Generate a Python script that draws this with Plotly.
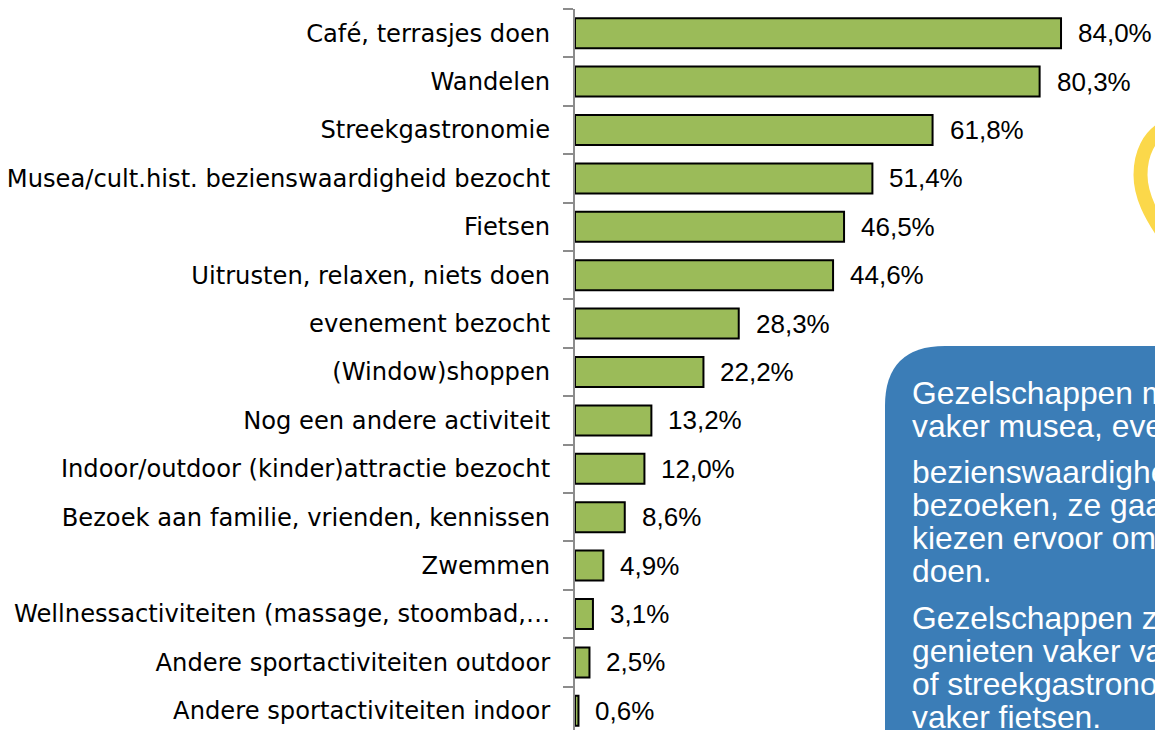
import plotly.graph_objects as go

categories = ["Café, terrasjes doen", "Wandelen", "Streekgastronomie",
              "Musea/cult.hist. bezienswaardigheid bezocht", "Fietsen",
              "Uitrusten, relaxen, niets doen", "evenement bezocht", "(Window)shoppen",
              "Nog een andere activiteit", "Indoor/outdoor (kinder)attractie bezocht",
              "Bezoek aan familie, vrienden, kennissen", "Zwemmen",
              "Wellnessactiviteiten (massage, stoombad,…", "Andere sportactiviteiten outdoor",
              "Andere sportactiviteiten indoor"]
values = [84.0, 80.3, 61.8, 51.4, 46.5, 44.6, 28.3, 22.2, 13.2, 12.0, 8.6, 4.9, 3.1, 2.5, 0.6]
box_lines = [("Gezelschappen met", 393), ("vaker musea, evenementen", 426),
             ("bezienswaardigheden", 472), ("bezoeken, ze gaan", 505),
             ("kiezen ervoor om", 538), ("doen.", 571),
             ("Gezelschappen zonder", 618), ("genieten vaker van", 651),
             ("of streekgastronomie", 684), ("vaker fietsen.", 717)]

W, H = 1155, 730
L, T = 575, 9
PW, PH = W - L, H - T
px = lambda x: (x - L) / PW
py = lambda y: 1 - (y - T) / PH

fig = go.Figure(go.Bar(y=categories, x=values, orientation="h",
                       marker=dict(color="#9BBB59", line=dict(color="#000000", width=2)),
                       hoverinfo="skip"))

ann = [dict(x=v, y=c, xref="x", yref="y", text=f"{v:.1f}".replace(".", ",") + "%",
            xanchor="left", yanchor="middle", xshift=15, showarrow=False,
            font=dict(family="Liberation Sans", size=26, color="#000000"))
       for c, v in zip(categories, values)]
for t, y in box_lines:
    ann.append(dict(x=px(910), y=py(y), xref="paper", yref="paper", text=t, xanchor="left",
                    yanchor="middle", showarrow=False,
                    font=dict(family="Liberation Sans", size=31.8, color="#FFFFFF")))

r = 60
box = (f"M {px(885)} {py(H+30)} L {px(885)} {py(346+r)} "
       f"Q {px(885)} {py(346)} {px(885+r)} {py(346)} L {px(1200)} {py(346)} L {px(1200)} {py(H+30)} Z")
pin = (f"M {px(1168)} {py(126)} C {px(1148)} {py(135)} {px(1140.5)} {py(155)} {px(1140.5)} {py(175)} "
       f"C {px(1140.5)} {py(195)} {px(1150)} {py(215)} {px(1168)} {py(240)}")
fig.update_layout(
    width=W, height=H, autosize=False,
    margin=dict(l=L, r=0, t=T, b=0, pad=0),
    paper_bgcolor="white", plot_bgcolor="white", showlegend=False,
    bargap=0.38,
    annotations=ann,
    shapes=[dict(type="path", path=box, xref="paper", yref="paper", fillcolor="#3B7DB7",
                 line=dict(width=0), layer="above"),
            dict(type="path", path=pin, xref="paper", yref="paper",
                 line=dict(color="#FBD84A", width=14), layer="above")],
    xaxis=dict(range=[0, PW / 5.786], visible=False, fixedrange=True),
    yaxis=dict(categoryorder="array", categoryarray=categories, type="category",
               range=[(H - T) / 48.4 - 0.5, -0.5], showgrid=False, zeroline=False,
               showline=True, linecolor="#8C8C8C", linewidth=2,
               ticks="outside", tickson="boundaries", ticklen=10, tickcolor="#8C8C8C", tickwidth=1.5,
               ticklabelstandoff=18, automargin=False,
               tickfont=dict(family="DejaVu Sans", size=24.2, color="#000000"), fixedrange=True),
)
fig.write_html("out.html", config=dict(displayModeBar=False),
               post_script="document.body.style.margin='0';document.documentElement.style.overflow='hidden';")
